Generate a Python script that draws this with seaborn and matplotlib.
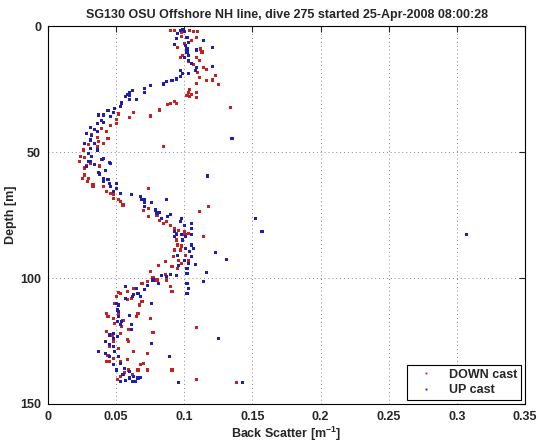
import matplotlib
matplotlib.use("Agg")
import matplotlib.pyplot as plt
import seaborn as sns
import pandas as pd

# values (backscatter [1/m], depth [m])
down_x = [
    0.090, 0.093, 0.098, 0.104, 0.107, 0.110, 0.109, 0.105, 0.098, 0.112,
    0.113, 0.097, 0.099, 0.109, 0.111, 0.107, 0.114, 0.116, 0.110, 0.123,
    0.111, 0.116, 0.121, 0.125, 0.109, 0.104, 0.103, 0.105, 0.102, 0.109,
    0.109, 0.104, 0.093, 0.090, 0.134, 0.100, 0.095, 0.103,
    0.088, 0.094, 0.082, 0.075, 0.063, 0.060, 0.052, 0.050, 0.050, 0.046,
    0.043, 0.039, 0.036, 0.044, 0.037, 0.085, 0.036, 0.026, 0.024, 0.027,
    0.040, 0.023, 0.031, 0.038, 0.027, 0.032, 0.030, 0.041,
    0.027, 0.028, 0.038, 0.027, 0.025, 0.030, 0.029, 0.033, 0.033, 0.041,
    0.043, 0.046, 0.048, 0.048, 0.052, 0.053, 0.055, 0.074, 0.070, 0.074,
    0.074, 0.080, 0.082, 0.087, 0.085, 0.090, 0.093, 0.100, 0.094, 0.111,
    0.118, 0.101,
    0.096, 0.099, 0.103, 0.094, 0.095, 0.098, 0.114, 0.097, 0.093, 0.092,
    0.101, 0.096, 0.103, 0.086, 0.098, 0.081, 0.091, 0.095, 0.086, 0.075,
    0.077, 0.080, 0.087, 0.073, 0.069, 0.090, 0.091, 0.058, 0.053, 0.063,
    0.061,
    0.052, 0.050, 0.057, 0.058, 0.069, 0.067, 0.049, 0.043, 0.044, 0.048,
    0.052, 0.066, 0.065, 0.075, 0.049, 0.055, 0.054, 0.059, 0.077, 0.043,
    0.047, 0.053, 0.058, 0.059, 0.048, 0.045, 0.052, 0.063, 0.073, 0.044,
    0.048, 0.043, 0.045, 0.053, 0.058, 0.068, 0.070, 0.066, 0.073, 0.059,
    0.062, 0.053, 0.056, 0.051, 0.091, 0.109, 0.109, 0.138,
]
down_depth = [
    1.9, 1.6, 2.5, 1.9, 2.1, 2.1, 4.5, 5.6, 4.2, 9.1,
    10.3, 12.4, 11.7, 12.4, 13.8, 15.1, 16.4, 17.1, 18.4, 19.7,
    20.4, 21.7, 21.4, 23.3, 22.7, 25.0, 26.3, 27.0, 27.5, 26.3,
    28.3, 28.0, 29.9, 30.6, 32.4, 7.0, 8.5, 14.0,
    31.3, 30.7, 33.3, 35.7, 34.3, 36.2, 34.9, 37.0, 38.6, 39.3,
    41.9, 40.6, 44.2, 44.6, 45.9, 47.9, 48.0, 49.2, 51.6, 52.3,
    52.9, 53.6, 54.4, 55.4, 56.0, 43.0, 47.0, 46.5,
    56.5, 55.2, 55.6, 59.1, 60.4, 60.4, 61.8, 63.0, 63.6, 63.8,
    65.7, 66.4, 67.0, 68.4, 69.0, 69.7, 71.0, 64.4, 73.3, 72.4,
    75.7, 75.0, 77.0, 77.6, 78.3, 79.0, 80.3, 81.6, 82.3, 73.7,
    71.7, 82.8,
    81.2, 82.9, 82.3, 84.9, 86.9, 87.3, 83.6, 88.9, 88.9, 91.5,
    90.9, 92.9, 92.9, 93.5, 94.2, 95.2, 95.5, 96.2, 98.6, 97.5,
    100.0, 100.8, 100.8, 101.5, 102.1, 103.4, 105.4, 105.4, 106.1, 104.1,
    108.0,
    105.8, 107.4, 108.0, 108.7, 109.4, 110.7, 110.0, 114.0, 115.3, 116.0,
    114.0, 114.0, 115.3, 116.0, 118.0, 116.7, 119.4, 120.6, 121.6, 121.3,
    122.6, 122.0, 124.4, 125.3, 125.3, 127.2, 127.8, 129.2, 130.0, 130.6,
    131.9, 133.2, 133.2, 133.2, 132.5, 134.5, 133.9, 136.5, 136.5, 136.5,
    138.4, 139.1, 137.5, 140.2, 136.5, 119.6, 140.2, 141.4,
]

up_x = [
    0.097, 0.099, 0.100, 0.095, 0.102, 0.094, 0.103, 0.114, 0.093, 0.101,
    0.102, 0.102, 0.121, 0.109, 0.100, 0.103, 0.103, 0.105, 0.109, 0.108,
    0.121, 0.097, 0.099, 0.103, 0.097, 0.094, 0.091, 0.087, 0.085, 0.075,
    0.071, 0.071, 0.062, 0.060, 0.060, 0.060, 0.065, 0.057, 0.054, 0.058,
    0.054, 0.053, 0.049, 0.044, 0.048, 0.041, 0.037, 0.046, 0.039, 0.041,
    0.036, 0.031, 0.034, 0.028, 0.032, 0.036, 0.031, 0.027, 0.034, 0.031,
    0.036, 0.030, 0.032, 0.030, 0.034, 0.046, 0.041, 0.028, 0.135,
    0.031, 0.039, 0.045, 0.037, 0.038, 0.042, 0.041, 0.044, 0.041, 0.045,
    0.050, 0.046, 0.050, 0.053, 0.048, 0.061, 0.068, 0.071, 0.069, 0.071,
    0.071, 0.076, 0.087, 0.079, 0.080, 0.082, 0.083, 0.088, 0.090, 0.097,
    0.098, 0.100, 0.105, 0.105, 0.094, 0.098, 0.101, 0.117, 0.152, 0.157,
    0.307,
    0.093, 0.093, 0.105, 0.099, 0.105, 0.107, 0.101, 0.104, 0.095, 0.105,
    0.100, 0.108, 0.103, 0.102, 0.096, 0.123, 0.131, 0.094, 0.102, 0.090,
    0.087, 0.083, 0.116, 0.114, 0.077, 0.081, 0.073, 0.102, 0.103, 0.102,
    0.071, 0.066, 0.063, 0.068,
    0.057, 0.065, 0.062, 0.050, 0.052, 0.057, 0.051, 0.052, 0.052, 0.051,
    0.054, 0.053, 0.060, 0.061, 0.061, 0.076, 0.048, 0.045, 0.051, 0.048,
    0.042, 0.045, 0.048, 0.037, 0.042, 0.049, 0.045, 0.052, 0.076, 0.048,
    0.053, 0.056, 0.050, 0.060, 0.055, 0.060, 0.063, 0.066, 0.068, 0.089,
    0.125, 0.143, 0.096, 0.057, 0.062, 0.064, 0.053,
]
up_depth = [
    1.6, 1.2, 2.2, 2.8, 4.5, 4.9, 6.5, 5.6, 7.4, 7.8,
    9.1, 10.3, 8.5, 9.5, 12.4, 11.8, 13.8, 14.9, 16.4, 17.7,
    16.0, 17.7, 19.0, 19.0, 20.0, 21.0, 21.7, 21.9, 23.0, 23.7,
    24.6, 26.3, 25.4, 26.3, 27.7, 29.0, 29.0, 28.0, 30.3, 27.3,
    30.7, 32.0, 32.7, 33.6, 34.4, 35.3, 35.3, 36.0, 37.6, 38.3,
    38.6, 40.2, 41.0, 42.6, 43.3, 42.0, 45.2, 46.6, 46.6, 48.6,
    49.2, 50.5, 51.6, 53.6, 55.0, 54.4, 52.5, 55.7, 44.8,
    53.8, 53.0, 54.0, 58.0, 58.7, 57.5, 60.4, 61.0, 61.8, 62.4,
    62.4, 63.8, 64.4, 66.4, 65.7, 67.0, 67.7, 68.7, 68.7, 70.2,
    71.6, 70.0, 69.0, 73.0, 74.2, 74.0, 76.5, 75.6, 74.8, 77.6,
    76.3, 79.0, 78.3, 80.3, 82.8, 82.8, 83.4, 59.5, 76.5, 81.6,
    82.8,
    81.6, 83.6, 82.9, 84.9, 86.9, 88.2, 88.2, 89.5, 90.9, 91.5,
    92.9, 94.8, 94.2, 96.2, 95.2, 90.0, 92.5, 98.9, 98.2, 98.6,
    99.5, 98.9, 97.9, 101.5, 100.8, 102.1, 102.8, 102.1, 104.1, 106.1,
    104.7, 106.0, 106.7, 107.4,
    103.4, 104.0, 107.4, 110.0, 110.7, 108.0, 112.7, 113.3, 115.3, 117.3,
    117.3, 118.6, 114.7, 118.6, 120.6, 110.0, 121.9, 122.6, 123.3, 123.9,
    125.3, 126.5, 127.2, 129.0, 130.0, 129.2, 131.2, 131.2, 125.9, 134.5,
    133.9, 135.8, 136.5, 137.2, 138.4, 139.7, 139.0, 139.7, 139.4, 131.2,
    124.0, 141.5, 141.4, 140.5, 141.0, 141.2, 141.0,
]

x_ticks = [0, 0.05, 0.1, 0.15, 0.2, 0.25, 0.3, 0.35]
x_labels = ["0", "0.05", "0.1", "0.15", "0.2", "0.25", "0.3", "0.35"]
y_ticks = [0, 50, 100, 150]

df = pd.concat([
    pd.DataFrame({"bs": down_x, "depth": down_depth, "cast": "DOWN cast"}),
    pd.DataFrame({"bs": up_x, "depth": up_depth, "cast": "UP cast"}),
])

sns.set_style("white")
plt.rcParams["font.family"] = ["Liberation Sans", "DejaVu Sans"]
plt.rcParams["font.weight"] = "bold"
plt.rcParams["mathtext.fontset"] = "custom"
plt.rcParams["mathtext.rm"] = "Liberation Sans:bold"
plt.rcParams["mathtext.default"] = "rm"

fig = plt.figure(figsize=(5.42, 4.42), dpi=100)
ax = fig.add_axes([0.0886, 0.086, 0.88, 0.855])

sns.scatterplot(data=df, x="bs", y="depth", hue="cast",
                palette={"DOWN cast": "#c8201e", "UP cast": "#1e1eb4"},
                marker="s", s=5, linewidth=0, ax=ax)

ax.set_xlim(0, 0.35)
ax.set_ylim(150, 0)
ax.set_xticks(x_ticks)
ax.set_xticklabels(x_labels)
ax.set_yticks(y_ticks)
ax.grid(True, linestyle=(0, (1, 3)), color="#888888", linewidth=0.7)
ax.tick_params(direction="in", length=4, width=0.8, top=True, right=True,
               labelsize=9, pad=5)
for s in ax.spines.values():
    s.set_color("black")
    s.set_linewidth(0.8)

ax.set_xlabel("Back Scatter [m$^{-1}$]", fontsize=9, fontweight="bold", labelpad=1)
ax.set_ylabel("Depth [m]", fontsize=9, fontweight="bold", labelpad=2)
ax.set_title("SG130 OSU Offshore NH line, dive 275 started 25-Apr-2008 08:00:28",
             fontsize=9, fontweight="bold", pad=6)

leg = ax.legend(loc="lower right", frameon=True, fancybox=False, fontsize=9,
                markerscale=0.6, handlelength=2.5, handletextpad=0.6,
                borderaxespad=0.3, borderpad=0.3, labelspacing=0.3)
leg.get_frame().set_edgecolor("black")
leg.get_frame().set_linewidth(0.8)
leg.get_frame().set_alpha(1)

fig.savefig("out.png", dpi=100)
